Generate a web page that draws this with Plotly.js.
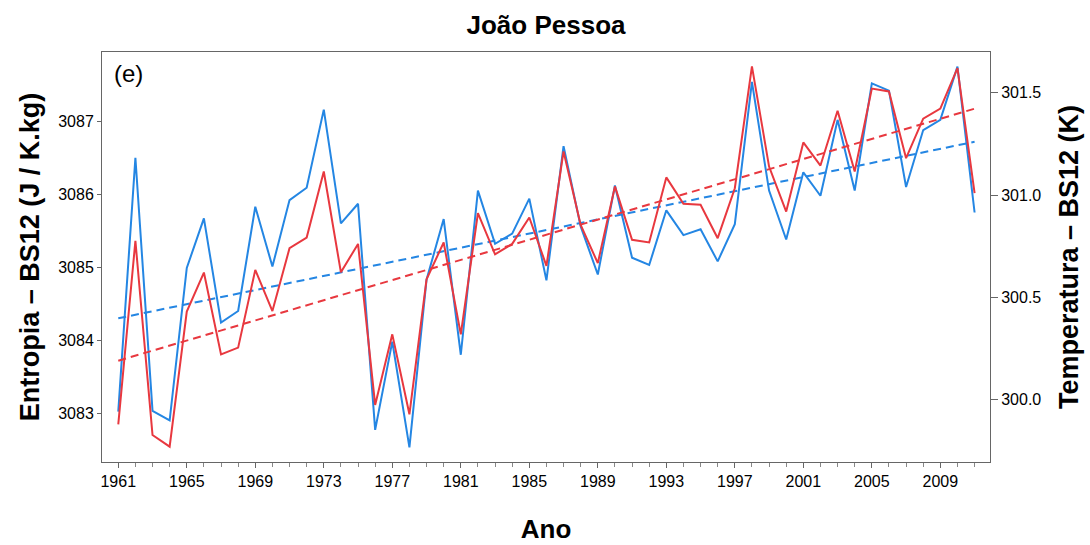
<!DOCTYPE html>
<html>
<head>
<meta charset="utf-8">
<script src="https://cdn.plot.ly/plotly-3.0.1.min.js"></script>
<style>html,body{margin:0;padding:0;background:#fff;}#chart{width:1090px;height:545px;}</style>
</head>
<body>
<div id="chart"></div>
<script>
const years = [1961,1962,1963,1964,1965,1966,1967,1968,1969,1970,1971,1972,1973,1974,1975,1976,1977,1978,1979,1980,1981,1982,1983,1984,1985,1986,1987,1988,1989,1990,1991,1992,1993,1994,1995,1996,1997,1998,1999,2000,2001,2002,2003,2004,2005,2006,2007,2008,2009,2010,2011];
const entropia = [3083.02,3086.50,3083.03,3082.90,3084.99,3085.67,3084.24,3084.40,3085.83,3085.01,3085.92,3086.09,3087.16,3085.60,3085.87,3082.77,3083.98,3082.53,3084.83,3085.66,3083.80,3086.05,3085.32,3085.46,3085.94,3084.82,3086.66,3085.56,3084.90,3086.12,3085.13,3085.03,3085.78,3085.44,3085.52,3085.08,3085.59,3087.54,3086.05,3085.38,3086.30,3085.98,3087.02,3086.05,3087.52,3087.42,3086.10,3086.88,3087.02,3087.75,3085.75];
const temperatura = [299.879,300.776,299.827,299.770,300.430,300.621,300.221,300.254,300.634,300.433,300.740,300.792,301.115,300.622,300.761,299.974,300.319,299.928,300.588,300.768,300.319,300.911,300.710,300.761,300.890,300.654,301.213,300.854,300.667,301.042,300.781,300.768,301.086,300.957,300.952,300.789,301.033,301.629,301.139,300.919,301.257,301.144,301.412,301.115,301.520,301.506,301.180,301.373,301.422,301.620,301.009];
const trendYears = [1961, 2011];
const trendEntropia = [3084.30, 3086.72];
const trendTemperatura = [300.190, 301.422];
const xTickVals = [1961,1965,1969,1973,1977,1981,1985,1989,1993,1997,2001,2005,2009];
const yTickVals = [3083,3084,3085,3086,3087];
const y2TickVals = [300.0,300.5,301.0,301.5];
const y2TickText = ['300.0','300.5','301.0','301.5'];

const blue = '#2486e3';
const red = '#e8383f';
const font = 'Liberation Sans, Arial, Helvetica, sans-serif';

const traces = [
  {x: years, y: entropia, type: 'scatter', mode: 'lines', line: {color: blue, width: 2}, yaxis: 'y', hoverinfo: 'skip'},
  {x: years, y: temperatura, type: 'scatter', mode: 'lines', line: {color: red, width: 2}, yaxis: 'y2', hoverinfo: 'skip'},
  {x: trendYears, y: trendEntropia, type: 'scatter', mode: 'lines', line: {color: blue, width: 2, dash: '8px,5px'}, yaxis: 'y', hoverinfo: 'skip'},
  {x: trendYears, y: trendTemperatura, type: 'scatter', mode: 'lines', line: {color: red, width: 2, dash: '8px,5px'}, yaxis: 'y2', hoverinfo: 'skip'}
];

const layout = {
  width: 1090, height: 545,
  margin: {l: 102, r: 100, t: 52, b: 83},
  paper_bgcolor: '#fff', plot_bgcolor: '#fff',
  showlegend: false,
  font: {family: font, color: '#000'},
  title: {text: '<b>João Pessoa</b>', font: {family: font, size: 26, color: '#000'}, x: 0.5, xref: 'paper', y: 0.955, yanchor: 'middle'},
  xaxis: {
    range: [1960.05, 2011.9], tickvals: xTickVals, ticktext: xTickVals.map(String),
    ticks: 'outside', ticklen: 5, tickcolor: '#666', tickwidth: 1,
    minor: {dtick: 1, tick0: 1961, ticks: 'outside', ticklen: 4, tickcolor: '#888', showgrid: false},
    showgrid: false, zeroline: false, showline: true, linecolor: '#666', linewidth: 1, mirror: true,
    tickfont: {family: font, size: 16, color: '#000'},
    title: {text: '<b>Ano</b>', font: {family: font, size: 26, color: '#000'}, standoff: 30}
  },
  yaxis: {
    range: [3082.33, 3087.95], tickvals: yTickVals, ticktext: yTickVals.map(String),
    ticks: 'outside', ticklen: 4, tickcolor: '#666',
    showgrid: false, zeroline: false, showline: true, linecolor: '#666', linewidth: 1,
    tickfont: {family: font, size: 16, color: '#000'},
    title: {text: '<b>Entropia – BS12 (J / K.kg)</b>', font: {family: font, size: 27, color: '#000'}, standoff: 10}
  },
  yaxis2: {
    range: [299.695, 301.699], tickvals: y2TickVals, ticktext: y2TickText,
    overlaying: 'y', side: 'right',
    ticks: 'outside', ticklen: 7, tickcolor: '#666',
    showgrid: false, zeroline: false, showline: true, linecolor: '#666', linewidth: 1,
    tickfont: {family: font, size: 16, color: '#000'},
    title: {text: '<b>Temperatura – BS12 (K)</b>', font: {family: font, size: 27, color: '#000'}, standoff: 18}
  },
  annotations: [
    {text: '(e)', xref: 'paper', yref: 'paper', x: 0.011, y: 0.985, xanchor: 'left', yanchor: 'top', showarrow: false, font: {family: font, size: 24, color: '#000'}}
  ]
};

Plotly.newPlot('chart', traces, layout, {displayModeBar: false, staticPlot: true});
</script>
</body>
</html>
